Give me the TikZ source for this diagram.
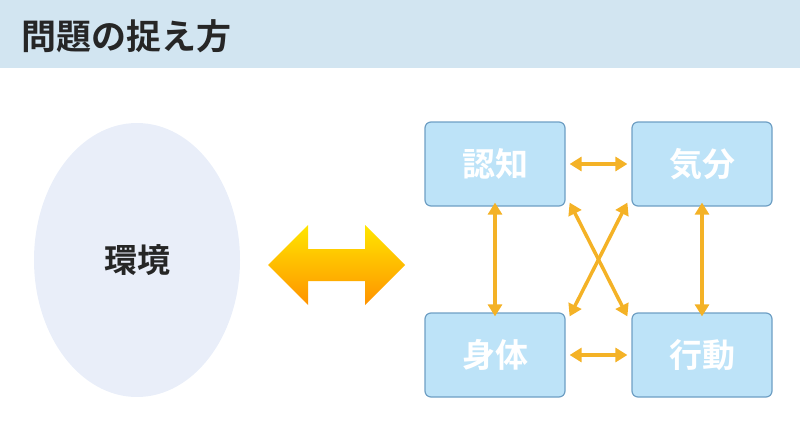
\documentclass[tikz,border=0pt]{standalone}
\usepackage{fontspec}
\newfontfamily\cjk{Noto Sans CJK JP}[BoldFont={Noto Sans CJK JP Bold}]
\usetikzlibrary{arrows.meta,shapes.geometric}
\definecolor{band}{HTML}{D2E5F1}
\definecolor{boxfill}{HTML}{BDE3F8}
\definecolor{boxline}{HTML}{6E9FC4}
\definecolor{arr}{HTML}{F4B226}
\definecolor{envfill}{HTML}{E9EEF9}
\begin{document}
\begin{tikzpicture}[x=1pt,y=-1pt,
  box/.style={draw=boxline,line width=1.2pt,fill=boxfill,rounded corners=6pt,
    minimum width=140pt,minimum height=84pt,text=white,
    font=\cjk\bfseries\fontsize{33}{33}\selectfont},
  link/.style={draw=arr,line width=3.5pt,{Triangle[length=12pt,width=14pt]}-{Triangle[length=12pt,width=14pt]}}]
  \useasboundingbox (0,0) rectangle (800,447);
  \fill[band] (0,0) rectangle (800,68);
  \node[anchor=west,text=black!85,font=\cjk\bfseries\fontsize{35}{35}\selectfont] (title) at (18,36) {問題の捉え方};
  % environment
  \node[ellipse,fill=envfill,minimum width=206pt,minimum height=274pt,
    font=\cjk\bfseries\fontsize{33}{33}\selectfont,text=black!85] (env) at (137,260) {環境};
  % big arrow
  \shade[top color=yellow!80!orange,bottom color=orange!85!yellow]
    (268,265) -- (308,225) -- (308,249) -- (365,249) -- (365,225) -- (405,265)
    -- (365,305) -- (365,281) -- (308,281) -- (308,305) -- cycle;
  % boxes
  \node[box] (cog) at (495,164) {認知};
  \node[box] (mood) at (702,164) {気分};
  \node[box] (body) at (495,355) {身体};
  \node[box] (act) at (702,355) {行動};
  \draw[link] ([xshift=4pt]cog.east) -- ([xshift=-4pt]mood.west);
  \draw[link] ([xshift=4pt]body.east) -- ([xshift=-4pt]act.west);
  \draw[link] ([yshift=4pt]cog.south) -- ([yshift=-4pt]body.north);
  \draw[link] ([yshift=4pt]mood.south) -- ([yshift=-4pt]act.north);
  \draw[link] ([shift={(4pt,4pt)}]cog.south east) -- ([shift={(-4pt,-4pt)}]act.north west);
  \draw[link] ([shift={(-4pt,4pt)}]mood.south west) -- ([shift={(4pt,-4pt)}]body.north east);
\end{tikzpicture}
\end{document}
